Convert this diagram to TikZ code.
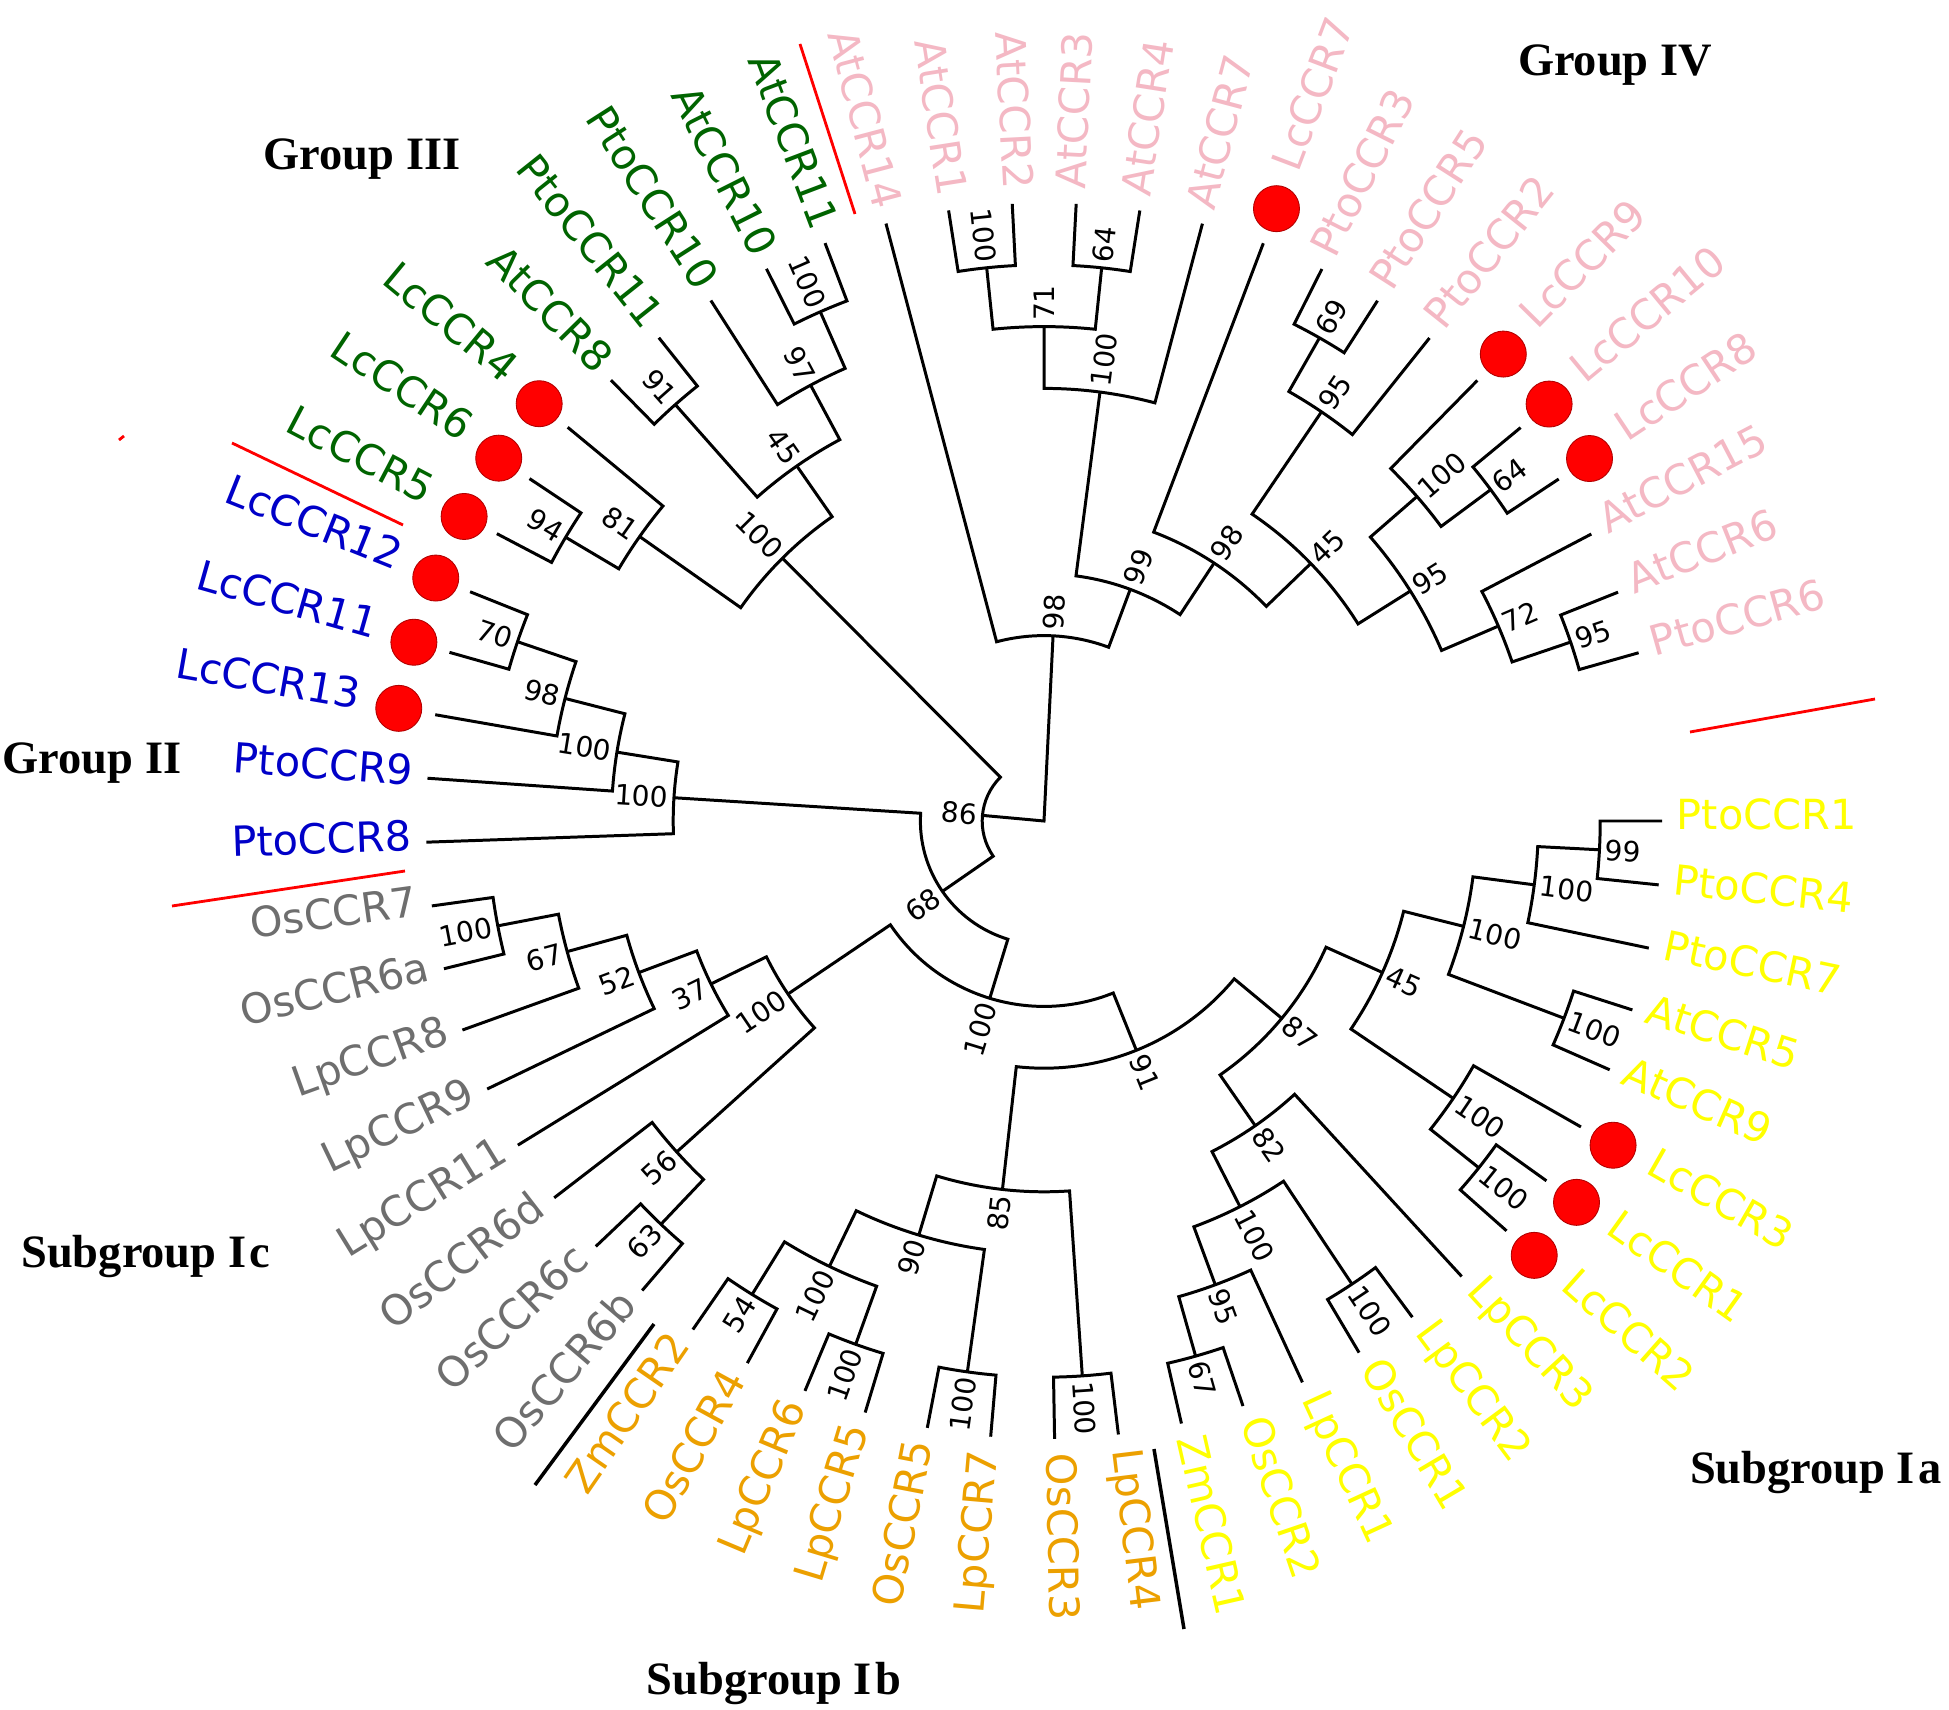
\documentclass[tikz,border=0pt]{standalone}
\usepackage{fontspec}
\setmainfont{Liberation Serif}
\newfontfamily\leaffont{DejaVu Sans}

\definecolor{cIa}{RGB}{255,255,0}
\definecolor{cIb}{RGB}{236,160,0}
\definecolor{cIc}{RGB}{110,110,110}
\definecolor{cII}{RGB}{0,0,200}
\definecolor{cIII}{RGB}{0,100,0}
\definecolor{cIV}{RGB}{244,184,196}
\definecolor{lcred}{RGB}{255,0,0}

\tikzset{
  branch/.style={line width=0.85pt},
  leaf/.style={font=\leaffont\fontsize{11.8}{14}\selectfont, inner sep=0pt},
  boot/.style={font=\leaffont\fontsize{8}{9}\selectfont, inner sep=0pt},
  grp/.style={font=\bfseries\fontsize{13.2}{15}\selectfont, inner sep=0pt, anchor=base},
  lcdot/.style={fill=lcred, draw=red!70!black, line width=0.25pt},
  redsep/.style={red, line width=0.8pt},
  blacksep/.style={black, line width=1pt},
}

\def\stp{5.9345}
%% clade: name, child a, child b, height, bootstrap
\newcommand\clade[5]{%
  \pgfmathsetmacro\cA{\csname A#2\endcsname}%
  \pgfmathsetmacro\cB{\csname A#3\endcsname}%
  \pgfmathsetmacro\cR{618-61.8*#4}%
  \pgfmathsetmacro\cM{(\cA+\cB)/2}%
  \expandafter\xdef\csname A#1\endcsname{\cM}%
  \draw[branch] (#2) -- (\cA:\cR) arc[start angle=\cA, end angle=\cB, radius=\cR] -- (#3);
  \coordinate (#1) at (\cM:\cR);
  \pgfmathsetmacro\cL{\cR+5}%
  \pgfmathtruncatemacro\cS{cos(\cM)>0 ? 1 : 0}%
  \ifnum\cS=1
    \node[boot, anchor=west, rotate=\cM] (b#1) at (\cM:\cL) {#5};
  \else
    \pgfmathsetmacro\cT{\cM+180}%
    \node[boot, anchor=east, rotate=\cT] (b#1) at (\cM:\cL) {#5};
  \fi
}

\begin{document}
\begin{tikzpicture}[x=0.01cm, y=0.01cm]
  %% page
  \fill[white] (-1044,-888) rectangle (905,821);
  \useasboundingbox (-1044,-888) rectangle (905,821);
  \coordinate (root) at (0,0);

  %% leaves
  \foreach \idx/\nm/\col/\dt in {
      0/PtoCCR1/cIa/0, 1/PtoCCR4/cIa/0, 2/PtoCCR7/cIa/0, 3/AtCCR5/cIa/0,
      4/AtCCR9/cIa/0, 5/LcCCR3/cIa/1, 6/LcCCR1/cIa/1, 7/LcCCR2/cIa/1,
      8/LpCCR3/cIa/0, 9/LpCCR2/cIa/0, 10/OsCCR1/cIa/0, 11/LpCCR1/cIa/0,
      12/OsCCR2/cIa/0, 13/ZmCCR1/cIa/0,
      14/LpCCR4/cIb/0, 15/OsCCR3/cIb/0, 16/LpCCR7/cIb/0, 17/OsCCR5/cIb/0,
      18/LpCCR5/cIb/0, 19/LpCCR6/cIb/0, 20/OsCCR4/cIb/0, 21/ZmCCR2/cIb/0,
      22/OsCCR6b/cIc/0, 23/OsCCR6c/cIc/0, 24/OsCCR6d/cIc/0, 25/LpCCR11/cIc/0,
      26/LpCCR9/cIc/0, 27/LpCCR8/cIc/0, 28/OsCCR6a/cIc/0, 29/OsCCR7/cIc/0,
      30/PtoCCR8/cII/0, 31/PtoCCR9/cII/0, 32/LcCCR13/cII/1, 33/LcCCR11/cII/1,
      34/LcCCR12/cII/1,
      35/LcCCR5/cIII/1, 36/LcCCR6/cIII/1, 37/LcCCR4/cIII/1, 38/AtCCR8/cIII/0,
      39/PtoCCR11/cIII/0, 40/PtoCCR10/cIII/0, 41/AtCCR10/cIII/0, 42/AtCCR11/cIII/0,
      43/AtCCR14/cIV/0, 44/AtCCR1/cIV/0, 45/AtCCR2/cIV/0, 46/AtCCR3/cIV/0,
      47/AtCCR4/cIV/0, 48/AtCCR7/cIV/0, 49/LcCCR7/cIV/1, 50/PtoCCR3/cIV/0,
      51/PtoCCR5/cIV/0, 52/PtoCCR2/cIV/0, 53/LcCCR9/cIV/1, 54/LcCCR10/cIV/1,
      55/LcCCR8/cIV/1, 56/AtCCR15/cIV/0, 57/AtCCR6/cIV/0, 58/PtoCCR6/cIV/0}{
    \pgfmathsetmacro\lA{-\idx*\stp}
    \pgfmathsetmacro\lR{\dt==1 ? 695 : 632}
    \pgfmathtruncatemacro\lS{cos(\lA)>0 ? 1 : 0}
    \expandafter\xdef\csname A\nm\endcsname{\lA}
    \coordinate (\nm) at (\lA:618);
    \ifnum\dt=1 \filldraw[lcdot] (\lA:655) circle[radius=23]; \fi
    \ifnum\lS=1
      \node[leaf, text=\col, anchor=mid west, rotate=\lA] (l\nm) at (\lA:\lR) {\nm};
    \else
      \pgfmathsetmacro\lT{\lA+180}
      \node[leaf, text=\col, anchor=mid east, rotate=\lT] (l\nm) at (\lA:\lR) {\nm};
    \fi
  }

  %% Group II
  \clade{gIIa}{LcCCR12}{LcCCR11}{1}{70}
  \clade{gIIb}{gIIa}{LcCCR13}{2}{98}
  \clade{gIIc}{gIIb}{PtoCCR9}{3}{100}
  \clade{gII}{gIIc}{PtoCCR8}{4}{100}

  %% Group III
  \clade{gIIIa}{AtCCR11}{AtCCR10}{1}{100}
  \clade{gIIIb}{gIIIa}{PtoCCR10}{2}{97}
  \clade{gIIIc}{PtoCCR11}{AtCCR8}{1}{91}
  \clade{gIIId}{gIIIb}{gIIIc}{3}{45}
  \clade{gIIIe}{LcCCR5}{LcCCR6}{1}{94}
  \clade{gIIIf}{gIIIe}{LcCCR4}{2}{81}
  \clade{gIII}{gIIId}{gIIIf}{4}{100}

  %% Group IV
  \clade{gIVa}{AtCCR1}{AtCCR2}{1}{100}
  \clade{gIVb}{AtCCR3}{AtCCR4}{1}{64}
  \clade{gIVc}{gIVa}{gIVb}{2}{71}
  \clade{gIVd}{gIVc}{AtCCR7}{3}{100}
  \clade{gIVe}{PtoCCR3}{PtoCCR5}{1}{69}
  \clade{gIVf}{gIVe}{PtoCCR2}{2}{95}
  \clade{gIVg}{LcCCR10}{LcCCR8}{1}{64}
  \clade{gIVh}{LcCCR9}{gIVg}{2}{100}
  \clade{gIVi}{AtCCR6}{PtoCCR6}{1}{95}
  \clade{gIVj}{AtCCR15}{gIVi}{2}{72}
  \clade{gIVk}{gIVh}{gIVj}{3}{95}
  \clade{gIVl}{gIVf}{gIVk}{4}{45}
  \clade{gIVm}{LcCCR7}{gIVl}{5}{98}
  \clade{gIVn}{gIVd}{gIVm}{6}{99}
  \clade{gIV}{AtCCR14}{gIVn}{7}{98}

  %% Subgroup Ia
  \clade{Iaa}{PtoCCR1}{PtoCCR4}{1}{99}
  \clade{Iab}{Iaa}{PtoCCR7}{2}{100}
  \clade{Iac}{AtCCR5}{AtCCR9}{1}{100}
  \clade{Iad}{Iab}{Iac}{3}{100}
  \clade{Iae}{LcCCR1}{LcCCR2}{1}{100}
  \clade{Iaf}{LcCCR3}{Iae}{2}{100}
  \clade{Iag}{Iad}{Iaf}{4}{45}
  \clade{Iah}{ZmCCR1}{OsCCR2}{1}{67}
  \clade{Iai}{Iah}{LpCCR1}{2}{95}
  \clade{Iaj}{OsCCR1}{LpCCR2}{1}{100}
  \clade{Iak}{Iai}{Iaj}{3}{100}
  \clade{Ial}{Iak}{LpCCR3}{4}{82}
  \clade{Ia}{Ial}{Iag}{5}{87}

  %% Subgroup Ib
  \clade{Iba}{OsCCR3}{LpCCR4}{1}{100}
  \clade{Ibb}{LpCCR7}{OsCCR5}{1}{100}
  \clade{Ibc}{LpCCR5}{LpCCR6}{1}{100}
  \clade{Ibd}{OsCCR4}{ZmCCR2}{1}{54}
  \clade{Ibe}{Ibd}{Ibc}{2}{100}
  \clade{Ibf}{Ibe}{Ibb}{3}{90}
  \clade{Ib}{Ibf}{Iba}{4}{85}
  \clade{Iab6}{Ib}{Ia}{6}{91}

  %% Subgroup Ic
  \clade{Ica}{OsCCR7}{OsCCR6a}{1}{100}
  \clade{Icb}{Ica}{LpCCR8}{2}{67}
  \clade{Icc}{Icb}{LpCCR9}{3}{52}
  \clade{Icd}{Icc}{LpCCR11}{4}{37}
  \clade{Ice}{OsCCR6b}{OsCCR6c}{1}{63}
  \clade{Icf}{Ice}{OsCCR6d}{2}{56}
  \clade{Ic}{Icd}{Icf}{5}{100}

  %% backbone
  \clade{gI}{Ic}{Iab6}{7}{100}
  \clade{nA}{gII}{gI}{8}{68}
  \clade{nB}{gIII}{nA}{9}{86}
  \draw[branch] (nB) -- (root) -- (gIV);

  %% group names
  \node[grp] (tIII) at (-682,651) {Group III};
  \node[grp] (tIV) at (571,745) {Group IV};
  \node[grp] (tII) at (-952,48) {Group II};
  \node[grp] (tIc) at (-898,-446) {Subgroup I\kern.08em c};
  \node[grp] (tIb) at (-270,-873) {Subgroup I\kern.08em b};
  \node[grp] (tIa) at (772,-662) {Subgroup I\kern.08em a};

  %% separators
  \draw[redsep] (-244,777) -- (-189,607);
  \draw[redsep] (-812,378) -- (-641,296);
  \draw[redsep] (-925,381) -- (-920,385);
  \draw[redsep] (-872,-85) -- (-639,-50);
  \draw[redsep] (646,89) -- (831,122);
  \draw[blacksep] (-390,-503) -- (-509,-664);
  \draw[blacksep] (110,-628) -- (140,-808);
\end{tikzpicture}
\end{document}
